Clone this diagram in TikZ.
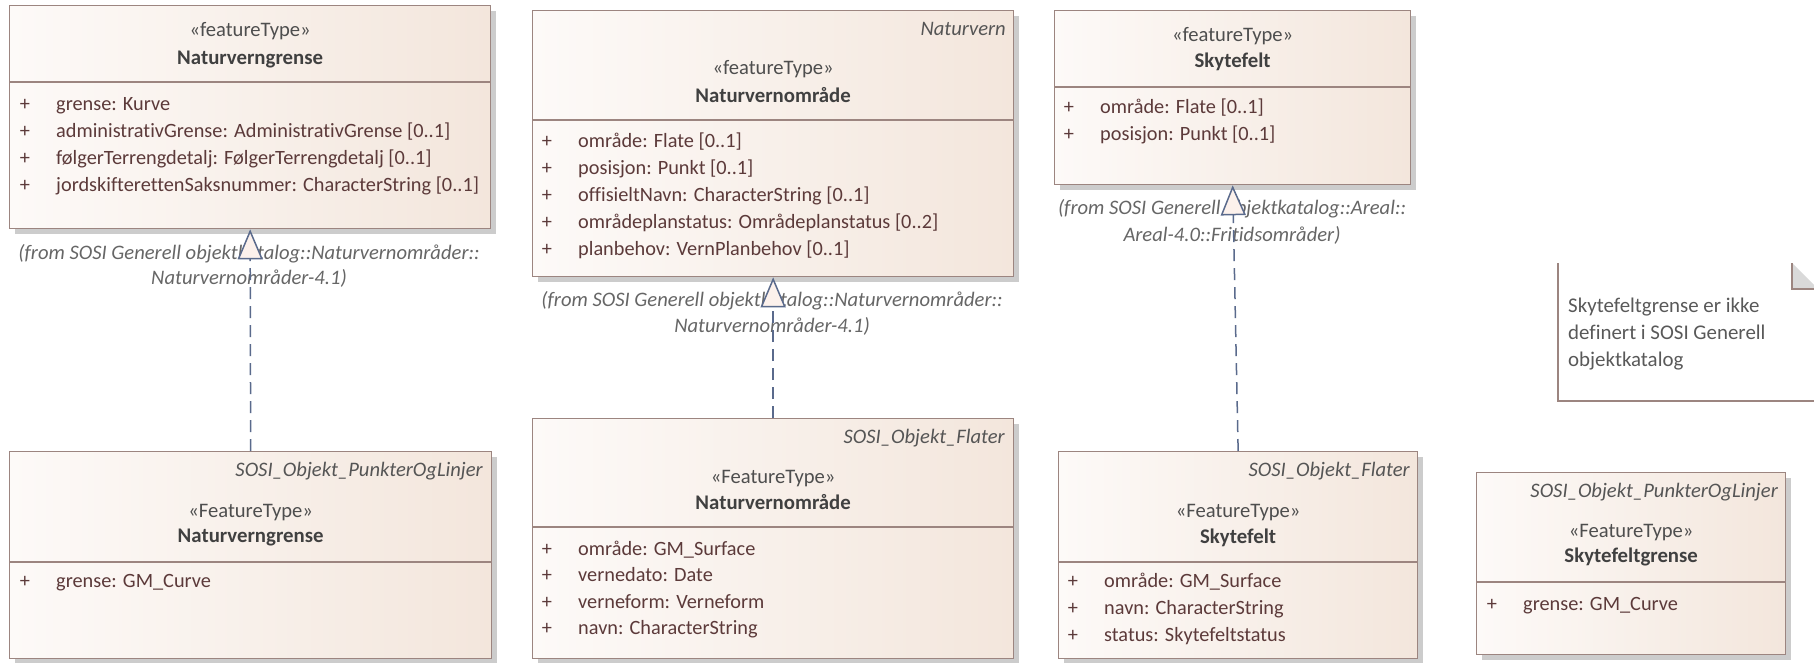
\documentclass[tikz,border=0pt]{standalone}
\usepackage{fontspec}
\setmainfont{Carlito}[Ligatures=NoCommon]
\usetikzlibrary{arrows.meta,shadows}

\definecolor{boxline}{HTML}{9C8580}
\definecolor{fillL}{HTML}{FDFAF8}
\definecolor{fillR}{HTML}{F3E6DC}
\definecolor{shadowc}{HTML}{CCCCCC}
\definecolor{attrc}{HTML}{5C3A3A}
\definecolor{titlec}{HTML}{404040}
\definecolor{stereoc}{HTML}{4E4E4E}
\definecolor{pkgc}{HTML}{555555}
\definecolor{fromc}{HTML}{666666}
\definecolor{linkc}{HTML}{5A6A8C}
\definecolor{tipfill}{HTML}{FCF1EC}
\definecolor{foldc}{HTML}{D9D9D9}
\definecolor{notec}{HTML}{595959}

\tikzset{
  classbox/.style={draw=boxline, line width=1.3pt, left color=fillL, right color=fillR,
    inner sep=0, anchor=north west,
    drop shadow={shadow xshift=5pt, shadow yshift=-5pt, fill=shadowc, opacity=1}},
  divider/.style={draw=boxline, line width=1.3pt},
  txt/.style={inner sep=0, text height=13pt, text depth=4pt, font=\fontsize{20.3}{24}\selectfont},
  stereo/.style={txt, text=stereoc, font=\fontsize{20.6}{24}\selectfont},
  ctitle/.style={txt, text=titlec, font=\fontsize{20.8}{24}\selectfont\bfseries},
  pkg/.style={txt, anchor=east, text=pkgc, font=\fontsize{20.6}{24}\selectfont\itshape},
  plus/.style={txt, text=attrc},
  attr/.style={txt, anchor=west, text=attrc},
  fromlbl/.style={txt, text=fromc, font=\fontsize{20.6}{24}\selectfont\itshape},
  notetxt/.style={txt, anchor=west, text=notec, font=\fontsize{20.9}{24}\selectfont},
  realize/.style={draw=linkc, line width=1.5pt, dash pattern=on 12pt off 7pt,
    -{Triangle[length=30pt, width=25pt, fill=tipfill, line width=1.5pt]}}
}

\begin{document}
\begin{tikzpicture}[x=1pt, y=-1pt]
\useasboundingbox[fill=white] (0,0) rectangle (1814,662);

% ---------- class boxes ----------
\node[classbox, minimum width=481pt, minimum height=223pt] (nvgTop) at (9,5) {};
\node[classbox, minimum width=482pt, minimum height=207pt] (nvgBot) at (9,451) {};
\node[classbox, minimum width=481pt, minimum height=266pt] (nvoTop) at (532,10) {};
\node[classbox, minimum width=481pt, minimum height=240pt] (nvoBot) at (532,418) {};
\node[classbox, minimum width=356pt, minimum height=174pt] (skfTop) at (1054,10) {};
\node[classbox, minimum width=359pt, minimum height=207pt] (skfBot) at (1058,451) {};
\node[classbox, minimum width=309pt, minimum height=182pt] (skgBot) at (1476,472) {};

% compartment dividers
\draw[divider] (nvgTop.west |- 0,82) -- (nvgTop.east |- 0,82);
\draw[divider] (nvgBot.west |- 0,562) -- (nvgBot.east |- 0,562);
\draw[divider] (nvoTop.west |- 0,120) -- (nvoTop.east |- 0,120);
\draw[divider] (nvoBot.west |- 0,527) -- (nvoBot.east |- 0,527);
\draw[divider] (skfTop.west |- 0,87) -- (skfTop.east |- 0,87);
\draw[divider] (skfBot.west |- 0,562) -- (skfBot.east |- 0,562);
\draw[divider] (skgBot.west |- 0,582) -- (skgBot.east |- 0,582);

% ---------- Naturverngrense (featureType) ----------
\node[stereo] (nvgTopSt) at (nvgTop.north |- 0,32) {«featureType»};
\node[ctitle] (nvgTopNm) at (nvgTop.north |- 0,60) {Naturverngrense};
\foreach \y/\t [count=\i] in {106/{grense: Kurve},
    133/{administrativGrense: AdministrativGrense [0..1]},
    160/{følgerTerrengdetalj: FølgerTerrengdetalj [0..1]},
    187/{jordskifterettenSaksnummer: CharacterString [0..1]}} {
  \node[plus] (nvgTopP\i) at (25,\y) {+};
  \node[attr] (nvgTopA\i) at (56,\y) {\t};
}

% ---------- Naturverngrense (FeatureType) ----------
\node[pkg] (nvgBotPk) at (483,472) {SOSI\_Objekt\_PunkterOgLinjer};
\node[stereo] (nvgBotSt) at (nvgBot.north |- 0,513) {«FeatureType»};
\node[ctitle] (nvgBotNm) at (nvgBot.north |- 0,538) {Naturverngrense};
\node[plus] (nvgBotP1) at (25,583) {+};
\node[attr] (nvgBotA1) at (56,583) {grense: GM\_Curve};

% ---------- Naturvernområde (featureType) ----------
\node[pkg] (nvoTopPk) at (1006,31) {Naturvern};
\node[stereo] (nvoTopSt) at (nvoTop.north |- 0,70) {«featureType»};
\node[ctitle] (nvoTopNm) at (nvoTop.north |- 0,98) {Naturvernområde};
\foreach \y/\t [count=\i] in {143/{område: Flate [0..1]},
    170/{posisjon: Punkt [0..1]},
    197/{offisieltNavn: CharacterString [0..1]},
    224/{områdeplanstatus: Områdeplanstatus [0..2]},
    251/{planbehov: VernPlanbehov [0..1]}} {
  \node[plus] (nvoTopP\i) at (547,\y) {+};
  \node[attr] (nvoTopA\i) at (578,\y) {\t};
}

% ---------- Naturvernområde (FeatureType) ----------
\node[pkg] (nvoBotPk) at (1005,439) {SOSI\_Objekt\_Flater};
\node[stereo] (nvoBotSt) at (nvoBot.north |- 0,479) {«FeatureType»};
\node[ctitle] (nvoBotNm) at (nvoBot.north |- 0,505) {Naturvernområde};
\foreach \y/\t [count=\i] in {551/{område: GM\_Surface},
    577/{vernedato: Date},
    604/{verneform: Verneform},
    630/{navn: CharacterString}} {
  \node[plus] (nvoBotP\i) at (547,\y) {+};
  \node[attr] (nvoBotA\i) at (578,\y) {\t};
}

% ---------- Skytefelt (featureType) ----------
\node[stereo] (skfTopSt) at (skfTop.north |- 0,37) {«featureType»};
\node[ctitle] (skfTopNm) at (skfTop.north |- 0,63) {Skytefelt};
\foreach \y/\t [count=\i] in {109/{område: Flate [0..1]},
    136/{posisjon: Punkt [0..1]}} {
  \node[plus] (skfTopP\i) at (1069,\y) {+};
  \node[attr] (skfTopA\i) at (1100,\y) {\t};
}

% ---------- Skytefelt (FeatureType) ----------
\node[pkg] (skfBotPk) at (1410,472) {SOSI\_Objekt\_Flater};
\node[stereo] (skfBotSt) at (skfBot.north |- 0,513) {«FeatureType»};
\node[ctitle] (skfBotNm) at (skfBot.north |- 0,539) {Skytefelt};
\foreach \y/\t [count=\i] in {583/{område: GM\_Surface},
    610/{navn: CharacterString},
    637/{status: Skytefeltstatus}} {
  \node[plus] (skfBotP\i) at (1073,\y) {+};
  \node[attr] (skfBotA\i) at (1104,\y) {\t};
}

% ---------- Skytefeltgrense (FeatureType) ----------
\node[pkg] (skgBotPk) at (1778,493) {SOSI\_Objekt\_PunkterOgLinjer};
\node[stereo] (skgBotSt) at (skgBot.north |- 0,533) {«FeatureType»};
\node[ctitle] (skgBotNm) at (skgBot.north |- 0,558) {Skytefeltgrense};
\node[plus] (skgBotP1) at (1492,606) {+};
\node[attr] (skgBotA1) at (1523,606) {grense: GM\_Curve};

% ---------- note ----------
\draw[draw=boxline, line width=1.3pt] (1558,263) -- (1558,401) -- (1830,401);
\fill[foldc] (1792,263) -- (1792,289) -- (1818,289) -- cycle;
\draw[draw=boxline, line width=1.3pt] (1792,263) -- (1792,289) -- (1818,289);
\node[notetxt] (note1) at (1568,308) {Skytefeltgrense er ikke};
\node[notetxt] (note2) at (1568,335) {definert i SOSI Generell};
\node[notetxt] (note3) at (1568,362) {objektkatalog};

% ---------- source package labels ----------
\node[fromlbl] (nvgFrom1) at (249,255) {(from SOSI Generell objektkatalog::Naturvernområder::};
\node[fromlbl] (nvgFrom2) at (249,280) {Naturvernområder-4.1)};
\node[fromlbl] (nvoFrom1) at (772,302) {(from SOSI Generell objektkatalog::Naturvernområder::};
\node[fromlbl] (nvoFrom2) at (772,328) {Naturvernområder-4.1)};
\node[fromlbl] (skfFrom1) at (1232,210) {(from SOSI Generell objektkatalog::Areal::};
\node[fromlbl] (skfFrom2) at (1232,237) {Areal-4.0::Fritidsområder)};

% ---------- realizations ----------
\draw[realize] (nvgBot.north) -- (nvgTop.south);
\draw[realize] (nvoBot.north) -- (nvoTop.south);
\draw[realize] (skfBot.north) -- (skfTop.south);
\end{tikzpicture}
\end{document}
